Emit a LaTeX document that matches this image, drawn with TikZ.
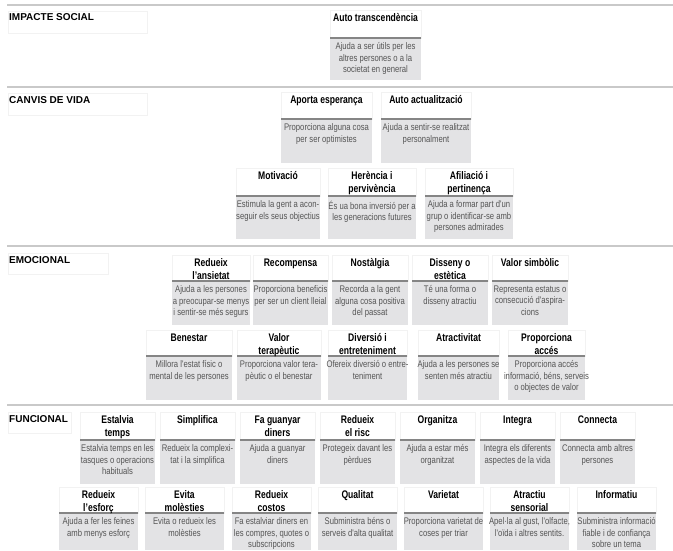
\documentclass[tikz,border=0pt]{standalone}
\usepackage{fontspec}
\setmainfont{Liberation Sans}
\newfontfamily\headfont[FakeStretch=0.78]{Liberation Sans}
\newfontfamily\bodyfont[FakeStretch=0.8]{Liberation Sans}

\definecolor{cardgray}{HTML}{E3E3E5}
\definecolor{bodyink}{HTML}{555555}
\definecolor{ruleink}{HTML}{858585}
\definecolor{lineink}{HTML}{C9C9C9}

\tikzset{
  secline/.style={draw=lineink, line width=1.3pt},
  labelbox/.style={draw=black!5, line width=0.6pt},
  seclabel/.style={anchor=base west, inner sep=0pt, font=\fontsize{10}{12}\selectfont\bfseries},
  cardbody/.style={fill=cardgray},
  cardhead/.style={draw=black!5, line width=0.6pt},
  cardrule/.style={draw=ruleink, line width=1.3pt},
  titletext/.style={anchor=north, inner sep=0pt, align=center, font=\headfont\fontsize{11}{13}\selectfont\bfseries},
  bodytext/.style={anchor=north, inner sep=0pt, align=center, text=bodyink, font=\bodyfont\fontsize{9.6}{11.5}\selectfont}
}

% one card: name, left x, width, title, text
\newcommand\card[5]{%
  \fill[cardbody] (#2,\rsep) rectangle ++(#3,\rbot-\rsep);
  \draw[cardhead] (#2,\rtop) rectangle ++(#3,\rsep-\rtop);
  \draw[cardrule] (#2,\rsep) -- ++(#3,0);
  \node[titletext] (#1) at (#2+#3/2,\rtop+3.5) {#4};
  \node[bodytext] (#1-b) at (#2+#3/2,\rsep+4.5) {#5};
}

\begin{document}
\begin{tikzpicture}[x=1pt, y=-1pt]
  \useasboundingbox (0,0) rectangle (673,551);

  % Section lines and labels
  \draw[secline] (7,5) -- (673,5);
  \draw[secline] (7,87) -- (673,87);
  \draw[secline] (7,246) -- (673,246);
  \draw[secline] (7,405) -- (673,405);

  \draw[labelbox] (8,11) rectangle (147,33);
  \draw[labelbox] (8,93) rectangle (147,115);
  \draw[labelbox] (8,253) rectangle (108,274);
  \draw[labelbox] (8,412) rectangle (71,433);
  \node[seclabel] (impacte) at (9,21) {IMPACTE SOCIAL};
  \node[seclabel] (canvis) at (9,103) {CANVIS DE VIDA};
  \node[seclabel] (emocional) at (9,263) {EMOCIONAL};
  \node[seclabel] (funcional) at (9,422) {FUNCIONAL};

  % Impacte social
  \def\rtop{10}\def\rsep{38}\def\rbot{80}
  \card{transc}{330}{91}{Auto transcendència}{Ajuda a ser útils per les\\altres persones o a la\\societat en general}

  % Canvis de vida
  \def\rtop{92}\def\rsep{119}\def\rbot{163}
  \card{esper}{281}{91}{Aporta esperança}{Proporciona alguna cosa\\per ser optimistes}
  \card{actual}{381}{90}{Auto actualització}{Ajuda a sentir-se realitzat\\personalment}

  \def\rtop{168}\def\rsep{196}\def\rbot{239}
  \card{motiv}{236}{84}{Motivació}{Estimula la gent a acon-\\seguir els seus objectius}
  \card{heren}{328}{88}{Herència i\\pervivència}{És ua bona inversió per a\\les generacions futures}
  \card{afil}{425}{88}{Afiliació i\\pertinença}{Ajuda a formar part d'un\\grup o identificar-se amb\\persones admirades}

  % Emocional
  \def\rtop{255}\def\rsep{281}\def\rbot{325}
  \card{ansiet}{172}{78}{Redueix\\l’ansietat}{Ajuda a les persones\\a preocupar-se menys\\i sentir-se més segurs}
  \card{recomp}{253}{75}{Recompensa}{Proporciona beneficis\\per ser un client lleial}
  \card{nostal}{332}{76}{Nostàlgia}{Recorda a la gent\\alguna cosa positiva\\del passat}
  \card{dissen}{412}{76}{Disseny o\\estètica}{Té una forma o\\disseny atractiu}
  \card{simbol}{492}{76}{Valor simbòlic}{Representa estatus o\\consecució d'aspira-\\cions}

  \def\rtop{330}\def\rsep{356}\def\rbot{400}
  \card{benest}{146}{86}{Benestar}{Millora l'estat físic o\\mental de les persones}
  \card{terap}{237}{84}{Valor\\terapèutic}{Proporciona valor tera-\\pèutic o el benestar}
  \card{divers}{328}{79}{Diversió i\\entreteniment}{Ofereix diversió o entre-\\teniment}
  \card{atract}{418}{81}{Atractivitat}{Ajuda a les persones se\\senten més atractiu}
  \card{acces}{508}{77}{Proporciona\\accés}{Proporciona accés\\informació, béns, serveis\\o objectes de valor}

  % Funcional
  \def\rtop{412}\def\rsep{440}\def\rbot{484}
  \card{temps}{80}{75}{Estalvia\\temps}{Estalvia temps en les\\tasques o operacions\\habituals}
  \card{simpl}{160}{75}{Simplifica}{Redueix la complexi-\\tat i la simplifica}
  \card{diners}{240}{75}{Fa guanyar\\diners}{Ajuda a guanyar\\diners}
  \card{risc}{320}{75}{Redueix\\el risc}{Protegeix davant les\\pèrdues}
  \card{organ}{400}{75}{Organitza}{Ajuda a estar més\\organitzat}
  \card{integ}{480}{75}{Integra}{Integra els diferents\\aspectes de la vida}
  \card{connec}{560}{75}{Connecta}{Connecta amb altres\\persones}

  \def\rtop{487}\def\rsep{513}\def\rbot{550}
  \card{esforc}{59}{79}{Redueix\\l’esforç}{Ajuda a fer les feines\\amb menys esforç}
  \card{moles}{145}{79}{Evita\\molèsties}{Evita o redueix les\\molèsties}
  \card{costos}{232}{79}{Redueix\\costos}{Fa estalviar diners en\\les compres, quotes o\\subscripcions}
  \card{qualit}{318}{79}{Qualitat}{Subministra béns o\\serveis d'alta qualitat}
  \card{variet}{404}{79}{Varietat}{Proporciona varietat de\\coses per triar}
  \card{sensor}{490}{79}{Atractiu\\sensorial}{Apel·la al gust, l'olfacte,\\l'oïda i altres sentits.}
  \card{inform}{577}{79}{Informatiu}{Subministra informació\\fiable i de confiança\\sobre un tema}
\end{tikzpicture}
\end{document}
